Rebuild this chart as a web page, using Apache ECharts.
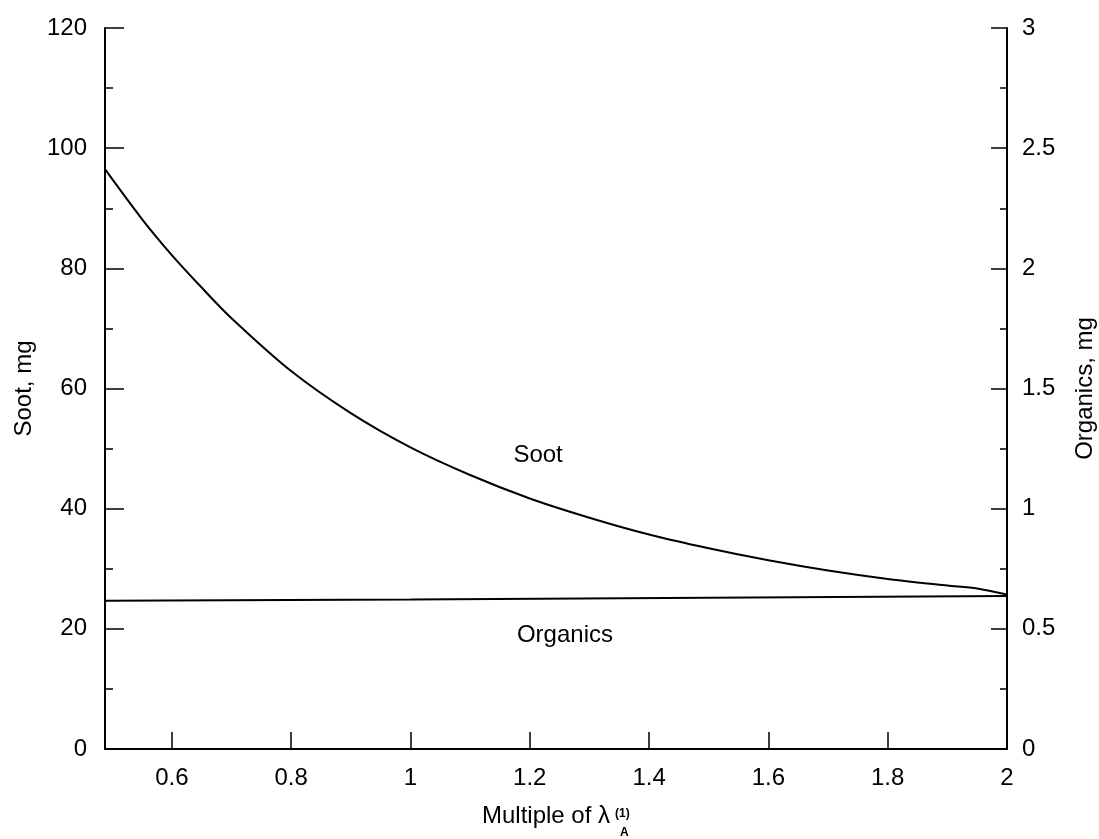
<!DOCTYPE html>
<html>
<head>
  <meta charset="utf-8">
  <title>Soot and organics</title>
  <script src="https://cdn.jsdelivr.net/npm/echarts@6/dist/echarts.min.js"></script>
  <style>
    html, body {
      margin: 0;
      padding: 0;
      background: #ffffff;
    }

    #chart {
      width: 1099px;
      height: 839px;
    }
  </style>
</head>
<body>
<div id="chart"></div>
<script>
  // values
  let lambdaMultiple = [0.488, 0.55, 0.6, 0.65, 0.7, 0.8, 0.9, 1.0, 1.1, 1.2, 1.3, 1.4, 1.5, 1.6, 1.7, 1.8, 1.9, 1.95, 2.0];
  let sootMg = [96.5, 88.2, 82.2, 76.8, 71.7, 62.9, 55.9, 50.2, 45.6, 41.7, 38.5, 35.7, 33.4, 31.4, 29.7, 28.3, 27.2, 26.7, 25.7];

  let organicsX = [0.488, 1.0, 1.5, 2.0];
  let organicsMg = [0.617, 0.622, 0.629, 0.637];

  let xTicks = [0.6, 0.8, 1, 1.2, 1.4, 1.6, 1.8, 2];

  let curveLabels = [
    [1.214, 48.8, 'Soot'],
    [1.259, 18.9, 'Organics']
  ];

  let font = "'Liberation Sans', Arial, sans-serif";

  function pairs(xs, ys) {
    let out = [];
    for (let i = 0; i < xs.length; i++) {
      out.push([xs[i], ys[i]]);
    }
    return out;
  }

  let myChart = echarts.init(document.getElementById('chart'));

  let options = {
    backgroundColor: '#ffffff',
    animation: false,
    textStyle: {
      fontFamily: font,
      color: '#000'
    },
    grid: {
      left: 105,
      right: 92,
      top: 28,
      bottom: 90,
      outerBoundsMode: 'none'
    },
    xAxis: {
      type: 'value',
      min: 0.488,
      max: 2,
      name: '{t|Multiple of λ}{g|}',
      nameLocation: 'middle',
      nameGap: 55,
      nameTextStyle: {
        rich: {
          t: {fontSize: 24, fontFamily: font, color: '#000'},
          g: {width: 20}
        }
      },
      splitLine: {show: false},
      axisLine: {
        onZero: false,
        lineStyle: {color: '#000', width: 2}
      },
      axisTick: {
        inside: true,
        length: 17,
        customValues: xTicks,
        lineStyle: {color: '#000', width: 1.5}
      },
      axisLabel: {
        customValues: xTicks,
        color: '#000',
        fontSize: 24,
        fontFamily: font,
        margin: 17
      }
    },
    yAxis: [
      {
        type: 'value',
        min: 0,
        max: 120,
        interval: 20,
        position: 'left',
        name: 'Soot, mg',
        nameLocation: 'middle',
        nameRotate: 90,
        nameGap: 68,
        nameTextStyle: {fontSize: 24, fontFamily: font, color: '#000'},
        splitLine: {show: false},
        axisLine: {
          show: true,
          lineStyle: {color: '#000', width: 2}
        },
        axisTick: {
          inside: true,
          length: 19,
          lineStyle: {color: '#000', width: 1.5}
        },
        minorTick: {
          show: true,
          splitNumber: 2,
          length: 8,
          lineStyle: {color: '#000', width: 1.5}
        },
        axisLabel: {
          color: '#000',
          fontSize: 24,
          fontFamily: font,
          margin: 18
        }
      },
      {
        type: 'value',
        min: 0,
        max: 3,
        interval: 0.5,
        position: 'right',
        name: 'Organics, mg',
        nameLocation: 'middle',
        nameRotate: 90,
        nameGap: 66,
        nameTextStyle: {fontSize: 24, fontFamily: font, color: '#000'},
        splitLine: {show: false},
        axisLine: {
          show: true,
          lineStyle: {color: '#000', width: 2}
        },
        axisTick: {
          inside: true,
          length: 16,
          lineStyle: {color: '#000', width: 1.5}
        },
        minorTick: {
          show: true,
          splitNumber: 2,
          length: 7,
          lineStyle: {color: '#000', width: 1.5}
        },
        axisLabel: {
          color: '#000',
          fontSize: 24,
          fontFamily: font,
          margin: 15
        }
      }
    ],
    series: [
      {
        name: 'Soot',
        type: 'line',
        yAxisIndex: 0,
        smooth: 0.3,
        symbol: 'none',
        lineStyle: {color: '#000', width: 2},
        data: pairs(lambdaMultiple, sootMg)
      },
      {
        name: 'Organics',
        type: 'line',
        yAxisIndex: 1,
        symbol: 'none',
        lineStyle: {color: '#000', width: 2},
        data: pairs(organicsX, organicsMg)
      },
      {
        type: 'scatter',
        yAxisIndex: 0,
        symbolSize: 0,
        silent: true,
        itemStyle: {color: '#000', opacity: 1},
        label: {
          show: true,
          position: 'inside',
          formatter: function (p) {
            return p.data[2];
          },
          color: '#000',
          opacity: 1,
          textBorderWidth: 0,
          fontSize: 24,
          fontFamily: font
        },
        data: curveLabels
      }
    ],
    graphic: [
      {
        type: 'text',
        left: 615,
        top: 808,
        style: {text: '(1)', fontSize: 12, fontWeight: 'bold', fontFamily: font, fill: '#000'}
      },
      {
        type: 'text',
        left: 620,
        top: 827,
        style: {text: 'A', fontSize: 12, fontWeight: 'bold', fontFamily: font, fill: '#000'}
      }
    ]
  };

  myChart.setOption(options);
</script>
</body>
</html>
